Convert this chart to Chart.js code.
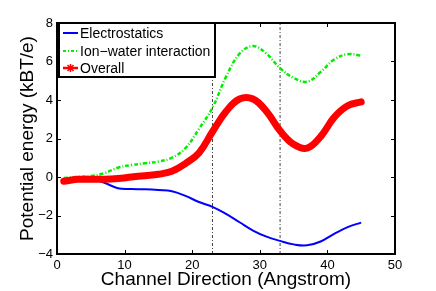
<!DOCTYPE html>
<html>
<head>
<meta charset="utf-8">
<script src="https://cdn.jsdelivr.net/npm/chart.js@4/dist/chart.umd.min.js"></script>
<style>
  html, body { margin: 0; padding: 0; background: #fff; }
  #wrap { width: 436px; height: 291px; }
</style>
</head>
<body>
<div id="wrap"><canvas id="myChart"></canvas></div>
<script>
// positions along the channel (Angstrom)
const positions = [1, 3, 5, 7, 9, 11, 13, 15, 17, 19, 21, 23, 25, 27, 29, 31, 33, 35, 37, 39, 41, 43, 45];

// potential energy (kBT/e)
const electrostatics = [-0.15, -0.1, -0.1, -0.3, -0.58, -0.62, -0.64, -0.68, -0.74, -0.98, -1.3, -1.55, -1.92, -2.35, -2.78, -3.1, -3.32, -3.5, -3.55, -3.35, -2.95, -2.6, -2.37];
const ionWater = [-0.05, 0.0, 0.05, 0.2, 0.48, 0.62, 0.71, 0.8, 1.0, 1.5, 2.5, 3.6, 5.2, 6.4, 6.8, 6.4, 5.65, 5.15, 4.95, 5.45, 6.1, 6.38, 6.3];
const overall = [-0.22, -0.12, -0.12, -0.12, -0.08, 0.0, 0.07, 0.14, 0.3, 0.7, 1.25, 2.35, 3.4, 4.05, 4.05, 3.4, 2.4, 1.7, 1.5, 2.1, 3.1, 3.7, 3.9];

// region borders (dash-dot lines)
const borders = [23, 33];

const xTicks = [0, 10, 20, 30, 40, 50];
const yTicks = [-4, -2, 0, 2, 4, 6, 8];

const seriesNames = ['Electrostatics', 'Ion\u2212water interaction', 'Overall'];

function pts(vals) {
  return positions.map((x, i) => ({ x: x, y: vals[i] }));
}

const datasets = [
  { label: seriesNames[0], data: pts(electrostatics), borderColor: '#0000ff', borderWidth: 2, pointRadius: 0, tension: 0.4, order: 2 },
  { label: seriesNames[1], data: pts(ionWater), borderColor: '#00ee00', borderWidth: 2.5, borderDash: [4, 2, 1, 2], pointRadius: 0, tension: 0.4, order: 1 },
  { label: seriesNames[2], data: pts(overall), borderColor: '#ff0000', borderWidth: 7, borderCapStyle: 'round', pointRadius: 0, tension: 0.4, order: 0 }
];
borders.forEach(b => {
  datasets.push({ label: '', data: [{ x: b, y: -4 }, { x: b, y: 8 }], borderColor: '#444', borderWidth: 1, borderDash: [3, 2, 1, 2], pointRadius: 0, order: 5 });
});

const font = 'Liberation Sans, Arial, Helvetica, sans-serif';

const frame = {
  id: 'frame',
  afterDatasetsDraw(chart) {
    const ctx = chart.ctx, a = chart.chartArea;
    const xs = chart.scales.x, ys = chart.scales.y;
    ctx.save();
    ctx.strokeStyle = '#000';
    ctx.lineWidth = 1;
    xTicks.forEach(t => {
      const px = Math.round(xs.getPixelForValue(t)) + 0.5;
      ctx.beginPath();
      ctx.moveTo(px, a.bottom); ctx.lineTo(px, a.bottom - 4);
      ctx.moveTo(px, a.top); ctx.lineTo(px, a.top + 4);
      ctx.stroke();
    });
    yTicks.forEach(t => {
      const py = Math.round(ys.getPixelForValue(t)) + 0.5;
      ctx.beginPath();
      ctx.moveTo(a.left, py); ctx.lineTo(a.left + 4, py);
      ctx.moveTo(a.right, py); ctx.lineTo(a.right - 4, py);
      ctx.stroke();
    });
    ctx.lineWidth = 2;
    ctx.strokeRect(a.left, a.top, a.right - a.left, a.bottom - a.top);

    // legend box inside the axes, top-left
    const lx = a.left + 2, ly = a.top, lw = 156, lh = 54;
    ctx.fillStyle = '#fff';
    ctx.fillRect(lx, ly, lw, lh);
    ctx.strokeRect(lx, ly, lw, lh);
    const rows = [ly + 10, ly + 28, ly + 45];
    const colors = ['#0000ff', '#00ee00', '#ff0000'];
    ctx.font = '14px ' + font;
    ctx.textBaseline = 'middle';
    rows.forEach((ry, i) => {
      ctx.save();
      ctx.strokeStyle = colors[i];
      ctx.lineWidth = i === 2 ? 2.5 : 2;
      if (i === 1) ctx.setLineDash([3, 2, 1, 2]);
      ctx.beginPath();
      ctx.moveTo(lx + 4, ry); ctx.lineTo(lx + 19, ry);
      ctx.stroke();
      if (i === 2) {
        ctx.lineWidth = 1.5;
        const cx = lx + 11.5;
        ctx.beginPath();
        ctx.moveTo(cx - 3, ry - 3); ctx.lineTo(cx + 3, ry + 3);
        ctx.moveTo(cx + 3, ry - 3); ctx.lineTo(cx - 3, ry + 3);
        ctx.moveTo(cx, ry - 4); ctx.lineTo(cx, ry + 4);
        ctx.stroke();
      }
      ctx.restore();
      ctx.fillStyle = '#000';
      ctx.fillText(seriesNames[i], lx + 21, ry + 1);
    });
    ctx.restore();
  }
};

const config = {
  type: 'line',
  data: { datasets: datasets },
  options: {
    responsive: true,
    maintainAspectRatio: false,
    animation: false,
    layout: { padding: { top: 23, right: 41, left: 0, bottom: 0 } },
    plugins: { legend: { display: false }, tooltip: { enabled: false } },
    scales: {
      x: {
        type: 'linear', min: 0, max: 50,
        afterFit: s => { s.height = 37; },
        afterBuildTicks: s => { s.ticks = xTicks.map(v => ({ value: v })); },
        grid: { display: false, drawTicks: false },
        border: { display: false },
        ticks: { color: '#000', font: { family: font, size: 13 }, padding: 4, maxRotation: 0 },
        title: { display: true, text: 'Channel Direction (Angstrom)', color: '#000', font: { family: font, size: 19 }, padding: { top: -4, bottom: 0 } }
      },
      y: {
        type: 'linear', min: -4, max: 8,
        afterFit: s => { s.width = 57; },
        afterBuildTicks: s => { s.ticks = yTicks.map(v => ({ value: v })); },
        grid: { display: false, drawTicks: false },
        border: { display: false },
        ticks: { color: '#000', font: { family: font, size: 13 }, padding: 4,
          callback: v => (v < 0 ? '\u2212' + Math.abs(v) : String(v)) },
        title: { display: true, text: 'Potential energy (kBT/e)', color: '#000', font: { family: font, size: 19 }, padding: { top: 16, bottom: 0 } }
      }
    }
  },
  plugins: [frame]
};

const myChart = new Chart(document.getElementById('myChart'), config);
</script>
</body>
</html>
